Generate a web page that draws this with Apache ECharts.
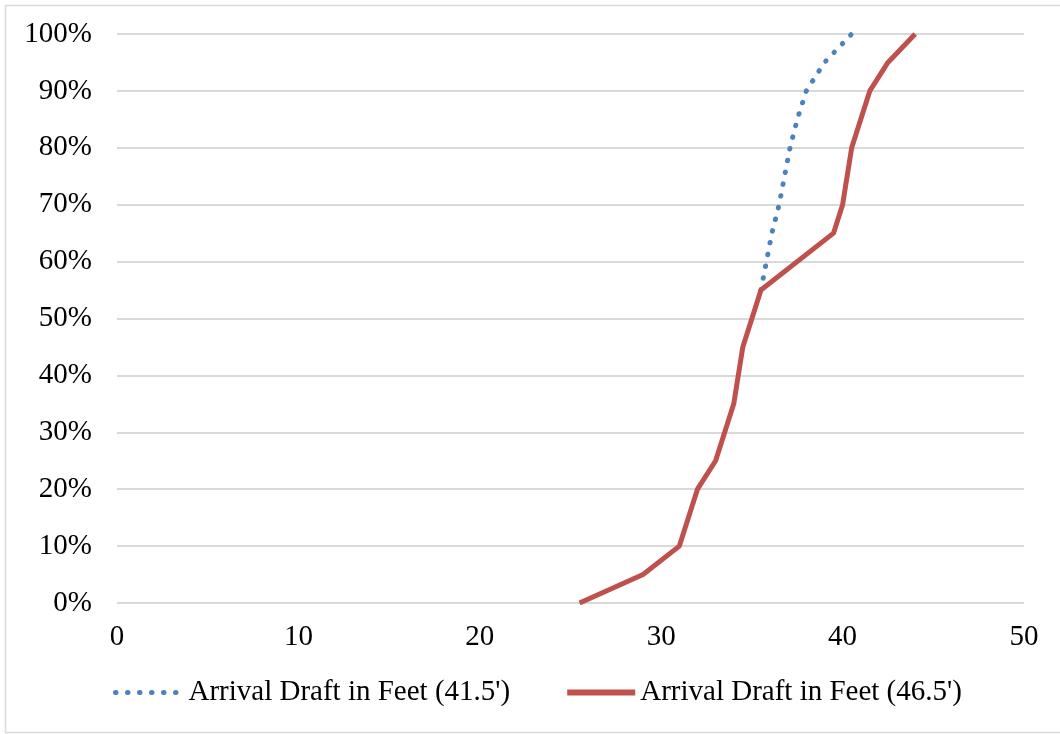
<!DOCTYPE html>
<html>
<head>
<meta charset="utf-8">
<script src="https://cdn.jsdelivr.net/npm/echarts@6/dist/echarts.min.js"></script>
<style>
html,body{margin:0;padding:0;background:#fff;}
#chart{width:1060px;height:734px;}
</style>
</head>
<body>
<div id="chart"></div>
<script>
const seriesNames = ["Arrival Draft in Feet (41.5')", "Arrival Draft in Feet (46.5')"];
// Draft in feet (x) vs cumulative percent (y)
const draft415 = [35.5, 35.8, 36.1, 36.5, 36.8, 37.1, 37.5, 38.0, 39.0, 40.5];
const pct415   = [55, 60, 65, 70, 75, 80, 85, 90, 95, 100];
const draft465 = [25.5, 29.0, 31.0, 32.0, 33.0, 34.0, 34.5, 35.5, 39.5, 40.0, 40.5, 41.5, 42.5, 44.0];
const pct465   = [0, 5, 10, 20, 25, 35, 45, 55, 65, 70, 80, 90, 95, 100];
const xTicks = [0, 10, 20, 30, 40, 50];

const zip = (xs, ys) => xs.map((x, i) => [x, ys[i]]);
const font = "'Liberation Serif', 'Times New Roman', serif";
const blue = '#4F81BD', red = '#C0504D';
const dotted = [0.5, 11.5];

const chart = echarts.init(document.getElementById('chart'), null, {renderer: 'canvas'});
chart.setOption({
  animation: false,
  backgroundColor: '#fff',
  grid: {left: 117, right: 36, top: 34, bottom: 131, containLabel: false},
  xAxis: {
    type: 'value', min: xTicks[0], max: xTicks[xTicks.length - 1], interval: 10,
    axisLine: {show: false}, axisTick: {show: false}, splitLine: {show: false},
    axisLabel: {color: '#000', fontFamily: font, fontSize: 29, margin: 20}
  },
  yAxis: {
    type: 'value', min: 0, max: 100, interval: 10,
    axisLine: {show: false}, axisTick: {show: false},
    splitLine: {lineStyle: {color: '#d9d9d9', width: 2}},
    axisLabel: {color: '#000', fontFamily: font, fontSize: 29, margin: 25, formatter: '{value}%'}
  },
  legend: {
    left: 108, top: 673, itemWidth: 68, itemHeight: 12, itemGap: 54,
    textStyle: {color: '#000', fontFamily: font, fontSize: 29, padding: [0, 0, 0, 0]},
    itemStyle: {opacity: 0},
    data: [
      {name: seriesNames[0], itemStyle: {opacity: 0}, lineStyle: {color: blue, width: 5, type: dotted, cap: 'round'}},
      {name: seriesNames[1], itemStyle: {opacity: 0}, lineStyle: {color: red, width: 6}}
    ]
  },
  graphic: [{
    type: 'rect', shape: {x: 5.5, y: 5.5, width: 1060, height: 727},
    style: {fill: 'none', stroke: '#d9d9d9', lineWidth: 1.5}, silent: true
  }],
  series: [
    {
      name: seriesNames[0], type: 'line', data: zip(draft415, pct415),
      symbol: 'none', color: blue,
      lineStyle: {color: blue, width: 5, type: dotted, cap: 'round'}
    },
    {
      name: seriesNames[1], type: 'line', data: zip(draft465, pct465),
      symbol: 'none', color: red,
      lineStyle: {color: red, width: 5}
    }
  ]
});
</script>
</body>
</html>
